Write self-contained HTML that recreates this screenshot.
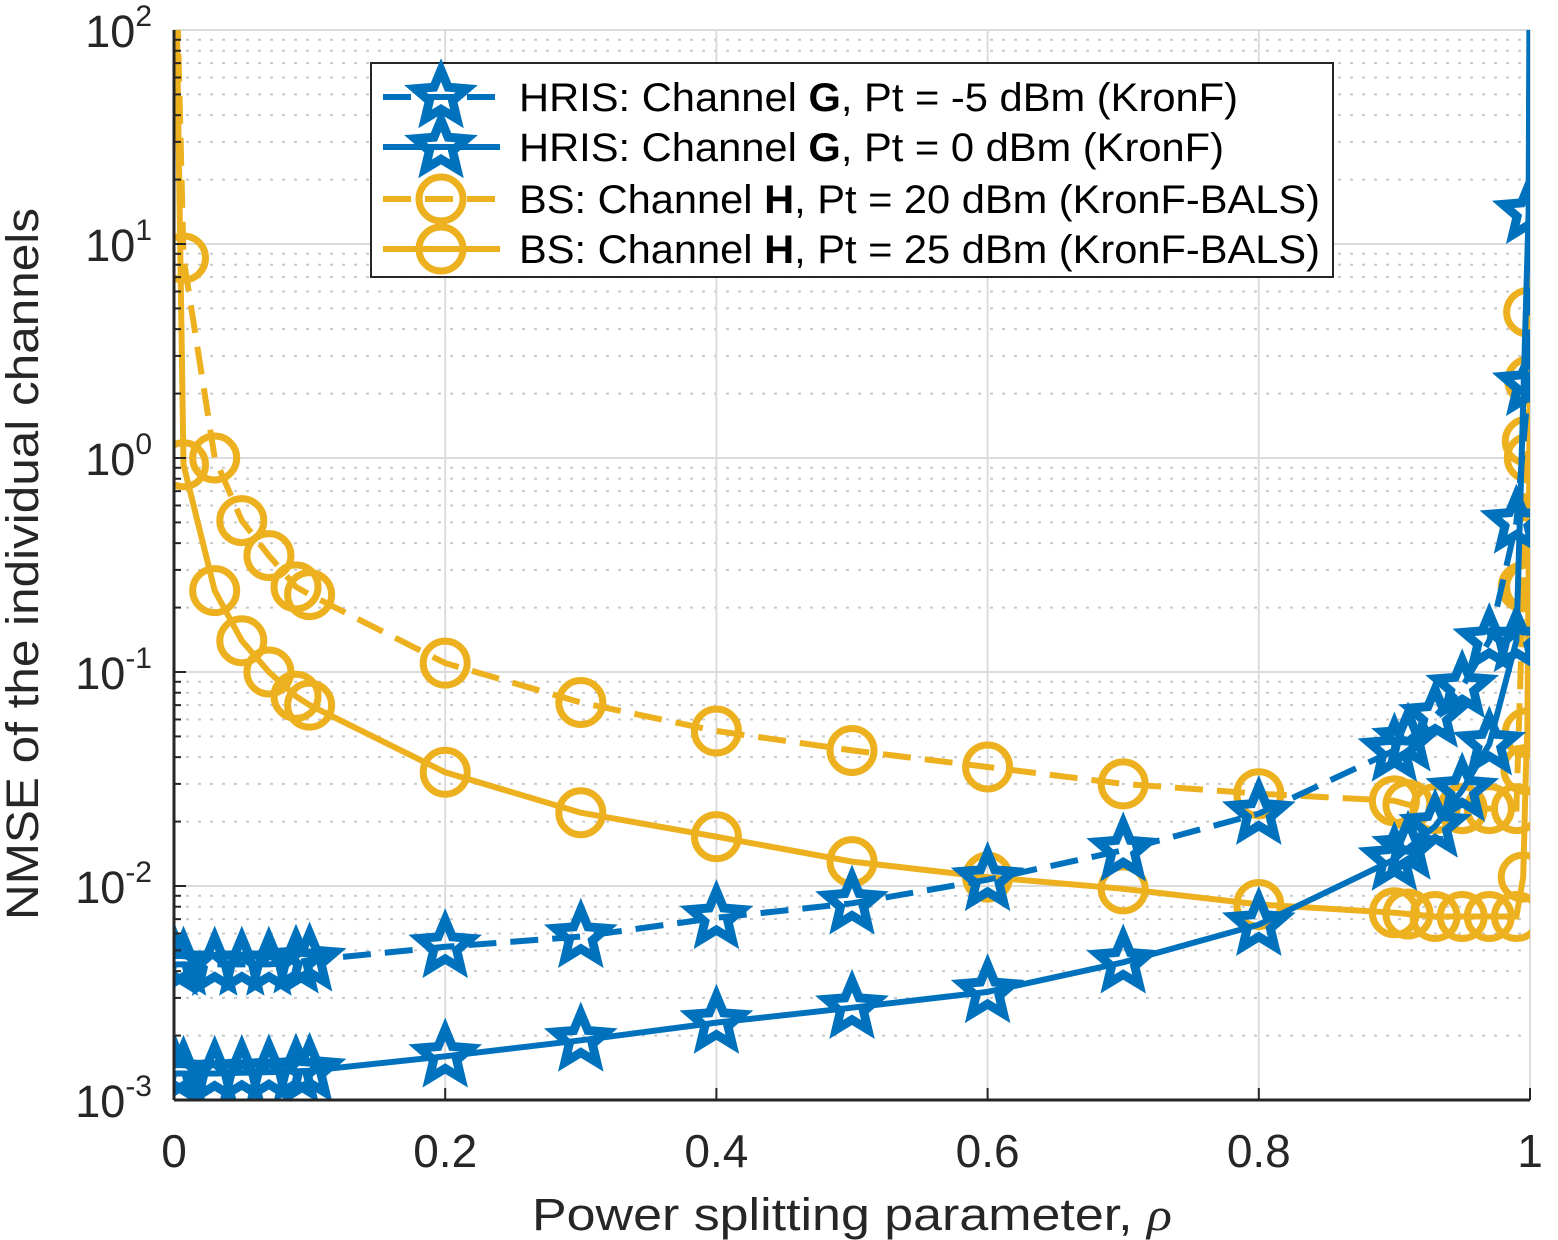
<!DOCTYPE html>
<html><head><meta charset="utf-8"><style>
body{margin:0;background:#fff}
svg{display:block;font-family:"Liberation Sans",Arial,sans-serif}
</style></head><body>
<svg id="chart" width="1558" height="1240" viewBox="0 0 1558 1240" xmlns="http://www.w3.org/2000/svg">
<defs><clipPath id="plotclip"><rect x="174" y="30" width="1356" height="1070"/></clipPath></defs>
<g id="grid"></g>
<g id="series" clip-path="url(#plotclip)"></g>
<g id="axes"></g>
<text x="532" y="1230" font-size="45" textLength="640" lengthAdjust="spacingAndGlyphs" fill="#262626">Power splitting parameter,   <tspan font-family="Liberation Serif" font-style="italic">ρ</tspan></text>
<text transform="translate(38,920) rotate(-90)" font-size="45" textLength="712" lengthAdjust="spacingAndGlyphs" fill="#262626">NMSE of the individual channels</text>
<g id="legend"></g>
</svg>
<script>
const xTicks=[0,0.2,0.4,0.6,0.8,1];
const xTickLabels=["0","0.2","0.4","0.6","0.8","1"];
const yExps=[2,1,0,-1,-2,-3];
const rhoLeft=[0.001,0.007,0.03,0.05,0.07,0.09,0.1,0.2,0.3,0.4,0.5,0.6,0.7,0.8,0.9,0.91,0.93,0.95,0.97,0.99];
const gDashed=[0.0043,0.0043,0.0043,0.0043,0.0043,0.0044,0.0045,0.0052,0.0058,0.0071,0.0083,0.0107,0.0147,0.0218,0.043,0.048,0.062,0.085,0.14,0.5];
const gSolid=[0.00133,0.00133,0.00133,0.00134,0.00135,0.00136,0.00137,0.0016,0.0019,0.0023,0.0027,0.0032,0.0044,0.0066,0.0133,0.015,0.019,0.028,0.046,0.14];
const hDashed=[300,8.6,1.0,0.51,0.35,0.25,0.23,0.11,0.072,0.053,0.043,0.036,0.030,0.027,0.025,0.024,0.023,0.023,0.023,0.023];
const hSolid=[300,0.93,0.24,0.14,0.1,0.077,0.07,0.034,0.022,0.017,0.013,0.011,0.0097,0.0082,0.0075,0.0074,0.0072,0.0072,0.0072,0.0072];
const rhoEndG=[0.999,1];
const gDashedEnd=[2.2,500];
const gSolidEnd=[14,500];
const rhoEndHd=[0.995,0.998,0.999,1];
const hDashedEnd=[0.25,1.2,4.8,500];
const rhoEndHs=[0.995,0.997,0.998,0.999,0.9995,0.9998,1];
const hSolidEnd=[0.011,0.035,0.052,0.25,1.0,2.3,500];

const X0=174,X1=1530,Y0=30,Y1=1100;
const sx=v=>X0+v*(X1-X0);
const sy=v=>Y0+(2-Math.log10(v))*(Y1-Y0)/5;
const NS="http://www.w3.org/2000/svg";
function mk(tag,attrs,parent){const e=document.createElementNS(NS,tag);for(const k in attrs)e.setAttribute(k,attrs[k]);parent.appendChild(e);return e;}
const grid=document.getElementById('grid'),axes=document.getElementById('axes'),ser=document.getElementById('series'),leg=document.getElementById('legend');
for(let e=-3;e<2;e++){for(let m=2;m<=9;m++){const y=sy(m*Math.pow(10,e));
 const l=mk('line',{x1:X0,x2:X1,y1:y,y2:y,stroke:'#c8c8c8','stroke-width':2,'stroke-dasharray':'3,9'},grid);
 
 }}
yExps.forEach(e=>{const y=sy(Math.pow(10,e));
 const l=mk('line',{x1:X0,x2:X1,y1:y,y2:y,stroke:'#dcdcdc','stroke-width':2},grid);
 
 });
xTicks.forEach(v=>{const x=sx(v);
 const l=mk('line',{x1:x,x2:x,y1:Y0,y2:Y1,stroke:'#dcdcdc','stroke-width':2},grid);
 
 });
mk('line',{x1:X0,x2:X0,y1:Y0,y2:Y1,stroke:'#262626','stroke-width':3},axes);
mk('line',{x1:X0,x2:X1,y1:Y1,y2:Y1,stroke:'#262626','stroke-width':3},axes);
xTicks.forEach((v,i)=>{const x=sx(v);
 mk('line',{x1:x,x2:x,y1:Y1,y2:Y1-12,stroke:'#262626','stroke-width':2},axes);
 const t=mk('text',{x:x,y:1167,'font-size':46,'text-anchor':'middle',fill:'#262626'},axes);t.textContent=xTickLabels[i];
 
 });
for(let e=-3;e<2;e++){for(let m=1;m<=9;m++){const y=sy(m*Math.pow(10,e));mk('line',{x1:X0,x2:X0+(m==1?12:7),y1:y,y2:y,stroke:'#262626','stroke-width':2},axes);}}
yExps.forEach(e=>{const y=sy(Math.pow(10,e));
 const t=mk('text',{x:152,y:y+17,'font-size':45,'text-anchor':'end',fill:'#262626'},axes);
 
 
 t.innerHTML='10<tspan dy="-21" font-size="30">'+e+'</tspan>';});
function star(cx,cy,r,col,parent){let p=[];for(let i=0;i<10;i++){const a=-Math.PI/2+i*Math.PI/5;const rr=i%2?r*0.45:r;p.push((cx+rr*Math.cos(a)).toFixed(1)+','+(cy+rr*Math.sin(a)).toFixed(1));}
 return mk('polygon',{points:p.join(' '),fill:'none',stroke:col,'stroke-width':9,'stroke-linejoin':'miter'},parent);}
function circ(cx,cy,r,col,parent){return mk('circle',{cx:cx,cy:cy,r:r,fill:'none',stroke:col,'stroke-width':7},parent);}
function drawSeries(xs,ys,col,dash,marker,name){
 const pts=xs.map((x,i)=>sx(x).toFixed(1)+','+sy(ys[i]).toFixed(1)).join(' ');
 const pl=mk('polyline',{points:pts,fill:'none',stroke:col,'stroke-width':6,'stroke-dasharray':dash?'28,14':'none'},ser);
 
 
 xs.forEach((x,i)=>{const m=marker==='star'?star(sx(x),sy(ys[i]),27,col,ser):circ(sx(x),sy(ys[i]),22,col,ser);
  
  });}
const B='#0072bd',Y='#edb120';
drawSeries(rhoLeft.concat(rhoEndHd),hDashed.concat(hDashedEnd),Y,true,'circle','bs-h-20dbm');
drawSeries(rhoLeft.concat(rhoEndHs),hSolid.concat(hSolidEnd),Y,false,'circle','bs-h-25dbm');
drawSeries(rhoLeft.concat(rhoEndG),gDashed.concat(gDashedEnd),B,true,'star','hris-g-m5dbm');
drawSeries(rhoLeft.concat(rhoEndG),gSolid.concat(gSolidEnd),B,false,'star','hris-g-0dbm');
mk('rect',{x:371,y:63,width:962,height:214,fill:'#fff',stroke:'#262626','stroke-width':2},leg);
const entries=[[B,true,'star','HRIS: Channel <tspan font-weight="bold">G</tspan>, Pt = -5 dBm (KronF)',719],
[B,false,'star','HRIS: Channel <tspan font-weight="bold">G</tspan>, Pt = 0 dBm (KronF)',705],
[Y,true,'circle','BS: Channel <tspan font-weight="bold">H</tspan>, Pt = 20 dBm (KronF-BALS)',801],
[Y,false,'circle','BS: Channel <tspan font-weight="bold">H</tspan>, Pt = 25 dBm (KronF-BALS)',801]];
const ly=[97,147,199,249];
entries.forEach((en,i)=>{const g=mk('g',{},leg);
 
 
 mk('line',{x1:383,x2:500,y1:ly[i],y2:ly[i],stroke:en[0],'stroke-width':6,'stroke-dasharray':en[1]?'28,14':'none'},g);
 if(en[2]==='star')star(441,ly[i],27,en[0],g);else circ(441,ly[i],22,en[0],g);
 const t=mk('text',{x:519,y:ly[i]+14,'font-size':40,fill:'#000',textLength:en[4],lengthAdjust:'spacingAndGlyphs'},g);t.innerHTML=en[3];});
</script>
</body></html>
